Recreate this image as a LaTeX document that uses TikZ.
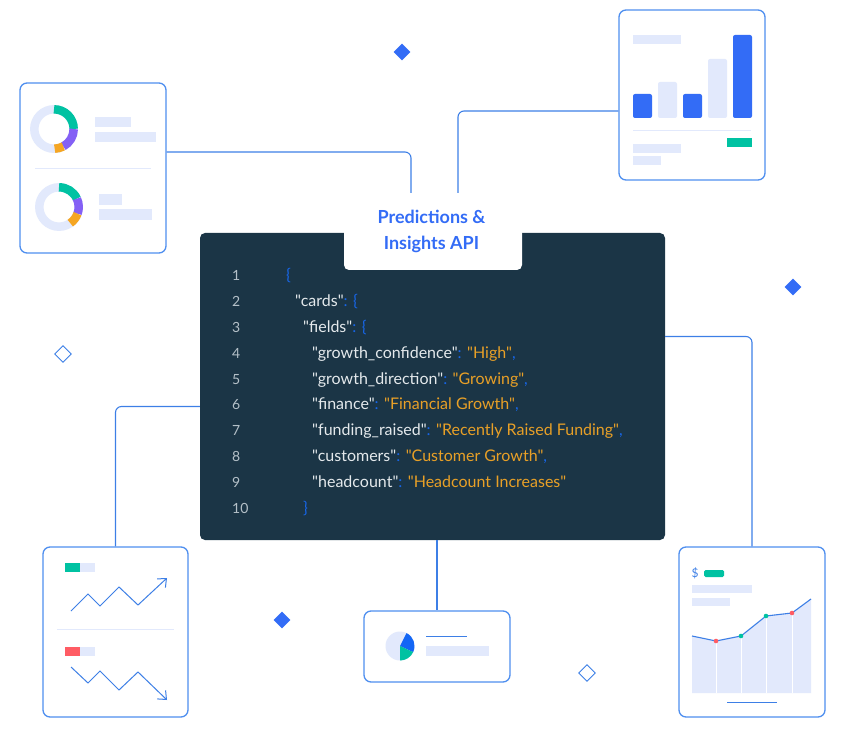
\documentclass[tikz,border=0pt]{standalone}
\usepackage{fontspec}
\setmainfont{Lato}[Ligatures=TeXOff]
\usetikzlibrary{arrows.meta, positioning, shapes.geometric}

\definecolor{cardblue}{HTML}{4F8FEF}
\definecolor{wireblue}{HTML}{3D7FE6}
\definecolor{softblue}{HTML}{E2E9FC}
\definecolor{barblue}{HTML}{336CF6}
\definecolor{pieblue}{HTML}{1366F5}
\definecolor{tealgreen}{HTML}{00C2A2}
\definecolor{violet}{HTML}{8460F5}
\definecolor{amber}{HTML}{F5A623}
\definecolor{coral}{HTML}{FF5C64}
\definecolor{panelnavy}{HTML}{1B3546}
\definecolor{codegrey}{HTML}{B4C0C8}
\definecolor{codewhite}{HTML}{E4E9EC}
\definecolor{codeblue}{HTML}{1766E8}
\definecolor{codeamber}{HTML}{E8A027}

\tikzset{
    card/.style={draw=cardblue, line width=1.3pt, fill=white, rounded corners=7pt, inner sep=0pt},
    wire/.style={draw=wireblue, line width=1.1pt, rounded corners=6pt},
    sparkline/.style={draw=wireblue, line width=1pt},
    gem/.style={diamond, fill=barblue, inner sep=0pt, minimum size=17pt},
    hollowgem/.style={diamond, draw=wireblue, fill=white, line width=.9pt, inner sep=0pt, minimum size=17pt},
    lineno/.style={anchor=base west, inner sep=0pt, text=codegrey, font=\fontsize{14}{18}\selectfont},
    codeline/.style={anchor=base west, inner sep=0pt, text=codewhite, font=\fontsize{16}{18}\selectfont},
}
\newcommand{\dk}[1]{\textcolor{codeblue}{#1}}
\newcommand{\dv}[1]{\textcolor{codeamber}{#1}}
\newcommand{\donutarc}[5]{\draw[#5, line width=8.5pt] (#1,#2) ++(#3:19.7) arc (#3:#4:19.7);}

\begin{document}
\begin{tikzpicture}[x=1pt, y=-1pt]
    \useasboundingbox (0,0) rectangle (844,738);

    % Anchors where the two top wires stop
    \coordinate (leftdrop) at (411,193);
    \coordinate (rightdrop) at (458,193);

    % Cards
    \node[card, minimum width=146pt, minimum height=170pt] (donutcard) at (93,168) {};
    \node[card, minimum width=146pt, minimum height=170pt] (barcard) at (692,95) {};
    \node[card, minimum width=145pt, minimum height=170pt] (trendcard) at (115.5,632) {};
    \node[card, minimum width=146pt, minimum height=71pt] (piecard) at (437,646.5) {};
    \node[card, minimum width=146pt, minimum height=170pt] (areacard) at (752,632) {};

    % Code panel and its tab
    \node[fill=panelnavy, rounded corners=5pt, minimum width=465pt, minimum height=307pt, inner sep=0pt] (panel) at (432.5,386.5) {};
    \fill[white, rounded corners=5pt] (344,220) rectangle (522,270);
    \node[text=barblue, align=center, font=\fontsize{18}{26}\selectfont\bfseries] (apititle) at (431.5,231.5) {Predictions \&\\Insights API};

    % Wires
    \draw[wire] ([yshift=16pt]donutcard.east) -| (leftdrop);
    \draw[wire] ([yshift=-16pt]barcard.west) -| (rightdrop);
    \draw[wire] ([yshift=50pt]panel.east) -| (areacard.north);
    \draw[wire] ([yshift=-20pt]panel.west) -| (trendcard.north);
    \draw[wire] (panel.south -| piecard.north) -- (piecard.north);

    % Code lines
    \node[lineno] (no1) at (232,280) {1};
    \node[lineno] (no2) at (232,306) {2};
    \node[lineno] (no3) at (232,332) {3};
    \node[lineno] (no4) at (232,358) {4};
    \node[lineno] (no5) at (232,384) {5};
    \node[lineno] (no6) at (232,409) {6};
    \node[lineno] (no7) at (232,435) {7};
    \node[lineno] (no8) at (232,461) {8};
    \node[lineno] (no9) at (232,487) {9};
    \node[lineno] (no10) at (232,513) {10};
    \node[codeline] (code1) at (286,280) {\dk{\{}};
    \node[codeline] (code2) at (295,306) {"cards"\dk{: \{}};
    \node[codeline] (code3) at (303,332) {"fields"\dk{: \{}};
    \node[codeline] (code4) at (312,358) {"growth\_confidence"\dk{:} \dv{"High"}\dk{,}};
    \node[codeline] (code5) at (312,384) {"growth\_direction"\dk{:} \dv{"Growing"}\dk{,}};
    \node[codeline] (code6) at (312,409) {"finance"\dk{:} \dv{"Financial Growth"}\dk{,}};
    \node[codeline] (code7) at (312,435) {"funding\_raised"\dk{:} \dv{"Recently Raised Funding"}\dk{,}};
    \node[codeline] (code8) at (312,461) {"customers"\dk{:} \dv{"Customer Growth"}\dk{,}};
    \node[codeline] (code9) at (312,487) {"headcount"\dk{:} \dv{"Headcount Increases"}};
    \node[codeline] (code10) at (303,513) {\dk{\}}};

    % Donut card
    \draw[softblue, line width=8.5pt] (54,129) circle (19.7);
    \donutarc{54}{129}{-90}{0}{tealgreen}
    \donutarc{54}{129}{0}{62}{violet}
    \donutarc{54}{129}{62}{88}{amber}
    \fill[softblue] (95,117) rectangle (131,127);
    \fill[softblue] (95,132) rectangle (156,142);
    \draw[softblue] (35,168) -- (151,168);
    \draw[softblue, line width=8.5pt] (59,207) circle (19.7);
    \donutarc{59}{207}{-90}{-25}{tealgreen}
    \donutarc{59}{207}{-25}{20}{violet}
    \donutarc{59}{207}{20}{55}{amber}
    \fill[softblue] (99,194) rectangle (122,205);
    \fill[softblue] (99,209) rectangle (152,220);

    % Bar card
    \fill[softblue] (633,35) rectangle (681,44);
    \fill[barblue, rounded corners=2pt] (633,94) rectangle (652,118);
    \fill[softblue, rounded corners=2pt] (658,82) rectangle (677,118);
    \fill[barblue, rounded corners=2pt] (683,94) rectangle (702,118);
    \fill[softblue, rounded corners=2pt] (708,59) rectangle (727,118);
    \fill[barblue, rounded corners=2pt] (733,35) rectangle (752,118);
    \draw[softblue] (633,130) -- (751,130);
    \fill[tealgreen] (727,138) rectangle (752,147);
    \fill[softblue] (633,144) rectangle (681,153);
    \fill[softblue] (633,156) rectangle (661,165);

    % Trend card
    \fill[softblue] (80,563) rectangle (95,572);
    \fill[tealgreen] (65,563) rectangle (80,572);
    \draw[sparkline, -{Straight Barb[length=7pt, width=12pt]}] (71,611) -- (88,594) -- (100,606) -- (119,587) -- (138,605) -- (167,578);
    \draw[softblue] (57,629) -- (174,629);
    \fill[softblue] (80,647) rectangle (95,656);
    \fill[coral] (65,647) rectangle (80,656);
    \draw[sparkline, -{Straight Barb[length=7pt, width=12pt]}] (71,667) -- (88,683) -- (100,671) -- (119,690) -- (138,672) -- (167,700);

    % Pie card
    \fill[softblue] (400,646) circle (14.5);
    \fill[pieblue] (400,646) -- ++(-63:14.5) arc (-63:25:14.5) -- cycle;
    \fill[tealgreen] (400,646) -- ++(25:14.5) arc (25:90:14.5) -- cycle;
    \draw[sparkline] (426,636) -- (467,636);
    \fill[softblue] (426,646) rectangle (489,656);

    % Area card
    \node[text=wireblue, font=\fontsize{12}{14}\selectfont] (dollar) at (695,573.5) {\$};
    \fill[tealgreen, rounded corners=1.5pt] (704,570) rectangle (724,577);
    \fill[softblue] (692,585) rectangle (752,593);
    \fill[softblue] (692,598) rectangle (730,606);
    \fill[softblue] (692,636) -- (716,641) -- (741,636) -- (766,616) -- (792,613) -- (811,599) -- (811,693) -- (692,693) -- cycle;
    \draw[white, line width=1pt] (716,641) -- (716,693);
    \draw[white, line width=1pt] (741,636) -- (741,693);
    \draw[white, line width=1pt] (766,616) -- (766,693);
    \draw[white, line width=1pt] (792,613) -- (792,693);
    \draw[sparkline, line width=1.1pt] (692,636) -- (716,641) -- (741,636) -- (766,616) -- (792,613) -- (811,599);
    \fill[coral] (716,641) circle (2.3);
    \fill[tealgreen] (741,636) circle (2.3);
    \fill[tealgreen] (766,616) circle (2.3);
    \fill[coral] (792,613) circle (2.3);
    \draw[sparkline] (727,702) -- (777,702);

    % Floating diamonds
    \node[gem] (gemtop) at (402,52) {};
    \node[gem] (gemright) at (793,287) {};
    \node[gem] (gembottom) at (282,620) {};
    \node[hollowgem] (openleft) at (63,354) {};
    \node[hollowgem] (openbottom) at (587,673) {};
\end{tikzpicture}
\end{document}
